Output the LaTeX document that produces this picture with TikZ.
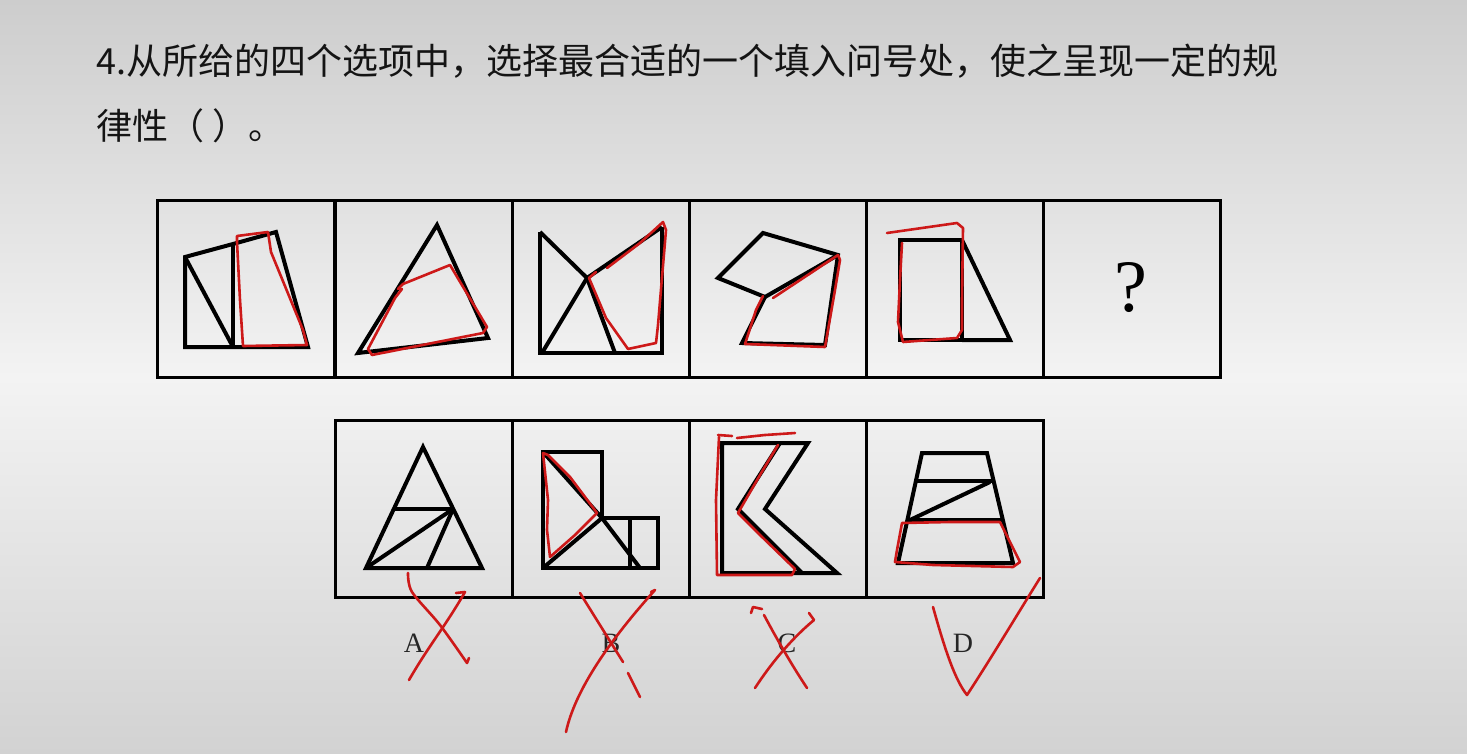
\documentclass[tikz,border=0pt]{standalone}
\usepackage{fontspec}
\newfontfamily\cjk{Noto Sans CJK SC}
\newfontfamily\tms{Liberation Serif}
\begin{document}
\begin{tikzpicture}[x=1pt,y=-1pt,
  cell/.style={draw=black,line width=3pt,minimum width=177pt,minimum height=177pt,inner sep=0pt},
  fig/.style={draw=black,line width=4pt,line join=miter},
  redmark/.style={draw=redink,line width=2.6pt,line cap=round,line join=round},
  qtext/.style={anchor=base west,inner sep=0pt,text=black!92,font=\cjk\fontsize{36}{36}\selectfont},
  lab/.style={inner sep=0pt,text=black!85,font=\tms\fontsize{28}{28}\selectfont}]
\definecolor{redink}{RGB}{205,25,25}
\useasboundingbox (0,0) rectangle (1467,754);
\fill[top color={rgb,255:red,205;green,205;blue,205},bottom color={rgb,255:red,210;green,210;blue,210},middle color={rgb,255:red,243;green,243;blue,243}] (0,0) rectangle (1467,754);

% question text
\node[qtext] (q1) at (96,75) {4.从所给的四个选项中，选择最合适的一个填入问号处，使之呈现一定的规};
\node[qtext] (q2) at (96,140) {律性（ ）。};

% top row cells
\node[cell] (t1) at (246,289) {};
\node[cell] (t2) at (423.5,289) {};
\node[cell] (t3) at (600.5,289) {};
\node[cell] (t4) at (777.5,289) {};
\node[cell] (t5) at (954.5,289) {};
\node[cell] (t6) at (1131.5,289) {};
% bottom row cells
\node[cell] (b1) at (423.5,508.5) {};
\node[cell] (b2) at (600.5,508.5) {};
\node[cell] (b3) at (777.5,508.5) {};
\node[cell] (b4) at (954.5,508.5) {};

% figure 1
\draw[fig] (185,257) -- (233,244) -- (276,232) -- (308,347) -- (185,347) -- cycle;
\draw[fig] (233,244) -- (233,347);
\draw[fig] (185,257) -- (233,347);
% figure 2
\draw[fig] (437,225) -- (358,353) -- (488,338) -- cycle;
% figure 3
\draw[fig] (540,232) -- (540,353) -- (662,353) -- (662,227);
\draw[fig] (540,232) -- (587,278) -- (615,353);
\draw[fig] (662,227) -- (587,278) -- (542,353);
% figure 4
\draw[fig] (765,297) -- (718,278) -- (763,233) -- (838,255) -- (825,345) -- (742,343) -- cycle;
\draw[fig] (765,297) -- (838,255);
% figure 5
\draw[fig] (900,240) rectangle (962,340);
\draw[fig] (962,240) -- (1010,340) -- (962,340);
% question mark
\node[inner sep=0pt,font=\tms\fontsize{74}{74}\selectfont] (qm) at (1131,288) {?};

% option A
\draw[fig] (423,447) -- (366,568) -- (482,568) -- cycle;
\draw[fig] (394,509) -- (453,509);
\draw[fig] (453,509) -- (366,568);
\draw[fig] (453,509) -- (427,568);
% option B
\draw[fig] (543,452) -- (602,452) -- (602,518) -- (658,518) -- (658,568) -- (543,568) -- cycle;
\draw[fig] (543,452) -- (602,518) -- (640,568);
\draw[fig] (602,518) -- (543,568);
\draw[fig] (630,518) -- (630,568);
% option C
\draw[fig] (722,443) -- (808,443) -- (765,509) -- (837,573) -- (722,573) -- cycle;
\draw[fig] (780,443) -- (738,509) -- (802,573);
% option D
\draw[fig] (922,453) -- (987,453) -- (1013,563) -- (898,563) -- cycle;
\draw[fig] (916,481) -- (993.6,481);
\draw[fig] (907,520) -- (1003,520);
\draw[fig] (990,482) -- (910,520);

% labels
\node[lab] (la) at (414,643) {A};
\node[lab] (lb) at (611,643) {B};
\node[lab] (lc) at (787,643) {C};
\node[lab] (ld) at (963,643) {D};

% red marks, top row
\draw[redmark] (237,242) -- (237,236) -- (268,232) -- (271,252) -- (303,330) -- (307,345) -- (243,346) -- (240,300) -- (237,242);
\draw[redmark] (398,289) -- (403,284) -- (450,265) -- (487,327) -- (483,333) -- (372,355) -- (368,349) -- (395,298) -- (402,289);
\draw[redmark] (607,268) -- (640,243) -- (663,222) -- (666,230) -- (658,325) -- (656,343) -- (628,349) -- (606,318) -- (589,278) -- (596,272);
\draw[redmark] (773,298) -- (838,255) -- (840,260) -- (835,290) -- (825,347) -- (745,344) -- (756,310) -- (763,296);
\draw[redmark] (887,233) -- (957,223) -- (963,228) -- (962,300) -- (962,330) -- (957,338) -- (903,342) -- (898,322) -- (900,280) -- (902,243);
% red marks, options
\draw[redmark] (543,453) -- (548,455) -- (570,477) -- (597,513) -- (575,535) -- (550,557) -- (547,530) -- (548,500) -- (543,453);
\draw[redmark] (718,435) -- (732,436);
\draw[redmark] (737,438) -- (765,435) -- (795,433);
\draw[redmark] (719,437) -- (716,500) -- (717,575) -- (792,575) -- (795,569) -- (760,535) -- (738,513) -- (760,475) -- (778,445);
\draw[redmark] (902,523) -- (950,522) -- (1000,522) -- (1020,562) -- (1013,567) -- (933,565) -- (895,562) -- (897,550) -- (902,523);

% red crosses
\draw[redmark] plot[smooth,tension=0.5] coordinates {(408,573) (412,592) (440,625) (467,663)} -- (469,658);
\draw[redmark] (456,593) -- (465,592) to[out=240,in=60] (409,680);
\draw[redmark] (580,593) -- (623,662);
\draw[redmark] (628,673) -- (640,697);
\draw[redmark] (651,592) -- (655,590) .. controls (610,640) and (575,690) .. (566,732);
\draw[redmark] (751,613) -- (753,607) -- (762,609);
\draw[redmark] (764,615) .. controls (780,645) and (795,670) .. (807,688);
\draw[redmark] (809,613) -- (814,620) .. controls (790,640) and (770,665) .. (755,688);
\draw[redmark] (933,607) .. controls (945,650) and (955,680) .. (967,695) .. controls (990,660) and (1020,610) .. (1040,578);
\end{tikzpicture}
\end{document}
